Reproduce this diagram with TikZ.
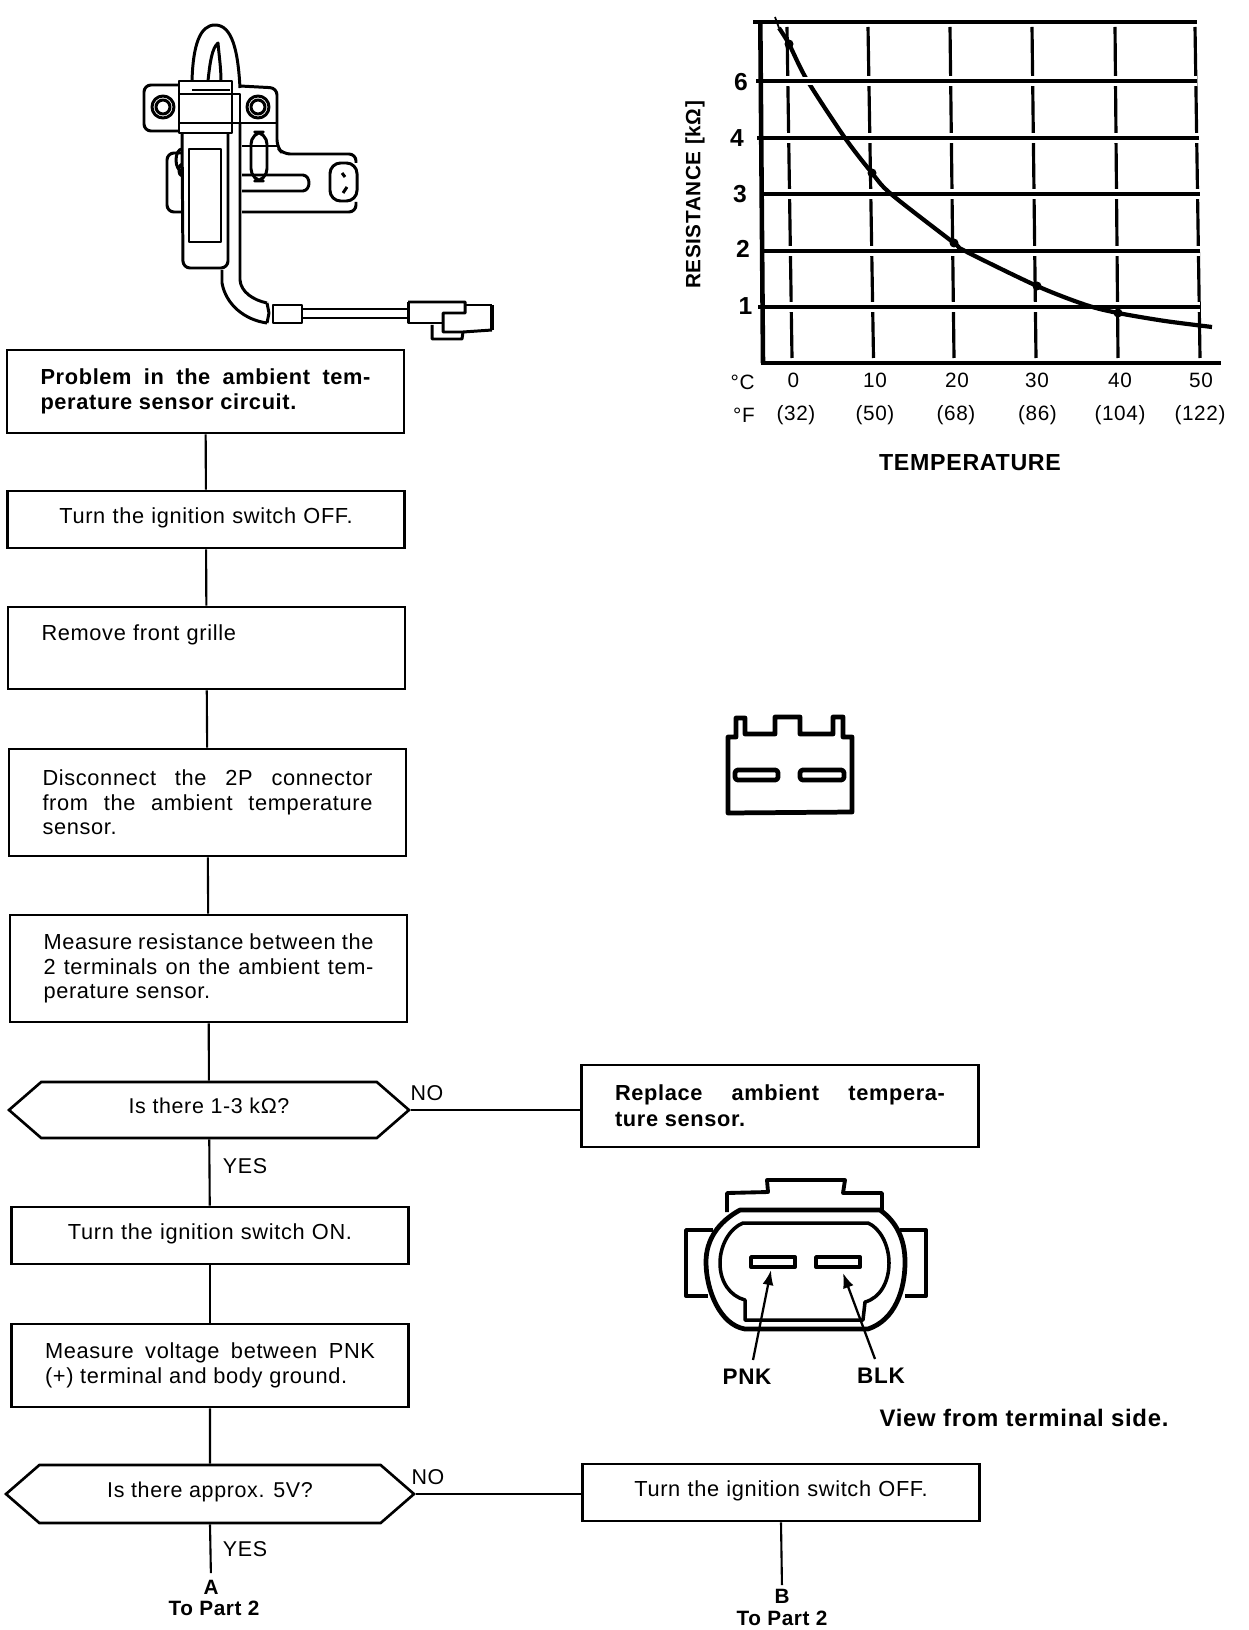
\documentclass[tikz,border=0pt]{standalone}
\usepackage{fontspec}
\setmainfont[LetterSpace=3]{Liberation Sans}
\usetikzlibrary{arrows.meta,shapes.symbols}
\tikzset{
  flowbox/.style={rectangle, draw=black, line width=0.75pt, align=justify, text width=33mm,
                  inner xsep=3.35mm, inner ysep=0pt, font=\fontsize{6.2}{7}\selectfont},
  flowmid/.style={flowbox, align=center, text depth=2.2pt},
  decision/.style={signal, signal to=west and east, signal pointer angle=82, draw=black,
                   line width=0.75pt, align=center, inner sep=0pt, text depth=2.6pt,
                   font=\fontsize{6.1}{7}\selectfont},
  link/.style={line width=0.6pt, draw=black},
  answer/.style={inner sep=0pt, font=\fontsize{6.1}{7}\selectfont},
  boldtag/.style={inner sep=0pt, font=\fontsize{5.9}{7}\selectfont\bfseries},
  numtag/.style={inner sep=0pt, font=\fontsize{7}{7}\selectfont\bfseries},
  axistag/.style={inner sep=0pt, font=\fontsize{5.9}{7}\selectfont},
  gridline/.style={line width=1.3pt, draw=black},
  halo/.style={line width=3pt, draw=white},
  tickline/.style={line width=0.9pt, draw=black},
  curveline/.style={line width=1.2pt, draw=black},
  outline/.style={line width=0.85pt, draw=black, line join=round},
  heavy/.style={line width=1.35pt, draw=black, line join=round},
  pointer/.style={-{Latex[length=1.5mm,width=1.1mm]}, line width=0.65pt, draw=black},
}
\begin{document}
\begin{tikzpicture}[x=0.1mm,y=-0.1mm]
  \useasboundingbox (0,0) rectangle (1248,1630);
  % sensor
  \draw[outline] (192,81) .. controls (193,45) and (200,25) .. (215,25) .. controls (232,25) and (238,50) .. (240,88);
  \draw[outline] (208,81) .. controls (210,62) and (212,48) .. (218,43) .. controls (219,55) and (221,68) .. (221,81);
  \draw[outline] (179,81) rectangle (232,133);
  \draw[outline] (192,90) -- (230,90);
  \draw[outline] (179,94) -- (240,94) -- (240,123) -- (179,123);
  \draw[outline, rounded corners=2pt] (179,85) -- (144,85) -- (144,131) -- (179,131);
  \draw[outline] (163,107) circle (11) circle (7);
  \draw[outline, rounded corners=2pt] (240,86) -- (277,88) -- (277,147) -- (283,154) -- (356,154) -- (356,163);
  \draw[outline, rounded corners=2pt] (356,202) -- (356,212) -- (242,212);
  \draw[outline] (240,123) -- (277,123);
  \draw[outline] (258,107) circle (11) circle (7);
  \draw[outline, rounded corners=3pt] (330,163) rectangle (357,201);
  \draw[outline] (342,173) -- (345,177) (347,187) -- (343,193);
  \draw[outline, rounded corners=3.5pt] (251,132) rectangle (267,181);
  \draw[outline] (242,146) -- (277,146);
  \draw[outline] (242,175) -- (303,175) .. controls (311,176) and (311,190) .. (303,191) -- (242,191);
  \draw[outline, rounded corners=2pt] (182,133) -- (183,268) -- (228,268) -- (228,133);
  \draw[outline] (189,149) rectangle (221,242);
  \draw[outline, rounded corners=2pt] (182,153) -- (167,153) -- (167,212) -- (182,212);
  \draw[outline] (182,171) arc (90:270:6 and 11);
  \draw[outline] (182,176) arc (90:270:3 and 6);
  \draw[outline] (240,123) -- (240,280) .. controls (241,292) and (253,300) .. (267,303);
  \draw[outline] (222,270) -- (222,283) .. controls (226,305) and (245,320) .. (267,323);
  \draw[outline] (267,303) -- (269,313) -- (267,323);
  \draw[outline] (273,305) rectangle (302,323);
  \draw[outline] (302,309) -- (408,309) (302,318) -- (408,318);
  \draw[outline] (408,302) -- (465,302) -- (465,313) -- (443,313) -- (443,332) -- (463,332) -- (492,330);
  \draw[outline] (408,302) -- (408,323) -- (443,323);
  \draw[outline] (465,305) -- (492,305);
  \draw[heavy] (492,305) -- (492,330);
  \draw[outline] (432,325) -- (432,339) -- (462,339) -- (463,332);
  % flow chart
  \node[flowbox, minimum height=8.3mm, font=\fontsize{6.2}{7.3}\selectfont\bfseries] (trouble) at (205.5,391.5)
    {Problem in the ambient tem-\linebreak perature sensor circuit.};
  \node[flowmid, minimum height=5.7mm] (ignoff) at (206,519.5) {Turn the ignition switch OFF.};
  \node[flowbox, minimum height=8.2mm, align=left] (grille) at (206.5,648) {Remove front grille\\[2pt]\mbox{}};
  \node[flowbox, minimum height=10.7mm] (unplug) at (207.5,802.5)
    {Disconnect the 2P connector\linebreak from the ambient temperature\linebreak sensor.};
  \node[flowbox, minimum height=10.7mm] (measres) at (208.5,968.5)
    {Measure resistance between the\linebreak 2 terminals on the ambient tem-\linebreak perature sensor.};
  \node[decision, minimum width=40mm, minimum height=5.6mm] (askres) at (209,1110) {Is there 1-3 k\symbol{"03A9}?};
  \node[flowbox, minimum height=8.2mm, font=\fontsize{6.2}{7.3}\selectfont\bfseries] (replace) at (780,1106)
    {Replace ambient tempera-\linebreak ture sensor.};
  \node[flowmid, minimum height=5.7mm] (ignon) at (210,1235.5) {Turn the ignition switch ON.};
  \node[flowbox, minimum height=8.3mm] (measvolt) at (210,1365.5)
    {Measure voltage between PNK\linebreak (+) terminal and body ground.};
  \node[decision, minimum width=40.8mm, minimum height=5.8mm] (askvolt) at (210,1494) {Is there approx. 5V?};
  \node[flowmid, minimum height=5.7mm] (ignoff2) at (781,1492.5) {Turn the ignition switch OFF.};
  \node[boldtag] (parta) at (211,1587) {A};
  \node[boldtag] (parta2) at (214,1608) {To Part 2};
  \node[boldtag] (partb) at (782,1596) {B};
  \node[boldtag] (partb2) at (782,1618) {To Part 2};
  \node[answer] (no1) at (427,1093) {NO};
  \node[answer] (yes1) at (245,1166) {YES};
  \node[answer] (no2) at (428,1477) {NO};
  \node[answer] (yes2) at (245,1549) {YES};
  \draw[link] (trouble) -- (ignoff);
  \draw[link] (ignoff) -- (grille);
  \draw[link] (grille) -- (unplug);
  \draw[link] (unplug) -- (measres);
  \draw[link] (measres) -- (askres);
  \draw[link] (askres.east) -- (askres.east -| replace.west);
  \draw[link] (askres) -- (ignon);
  \draw[link] (ignon) -- (measvolt);
  \draw[link] (measvolt) -- (askvolt);
  \draw[link] (askvolt.east) -- (askvolt.east -| ignoff2.west);
  \draw[link, shorten >=0.6mm] (askvolt.south) -- (parta.north);
  \draw[link, shorten >=0.3mm] (ignoff2.south) -- (partb.north);
  % graph
  \foreach \xa/\xb in {787/792,868/873.5,950/954,1032/1036,1115/1118,1195/1200}
    \draw[tickline] (\xa,27) -- (\xb,358);
  \foreach \yy/\xa/\xb in {81/756/1197,138/757/1199,194/760/1200,251/760/1200,307/758/1200}
    {\draw[halo] (\xa,\yy) -- (\xb,\yy);
     \draw[gridline] (\xa,\yy) -- (\xb,\yy);}
  \draw[gridline] (753,22) -- (1197,22);
  \draw[gridline] (761,363) -- (1221,363);
  \draw[line width=1.3pt] (760.3,22) -- (763,363);
  \draw[line width=0.5pt] (775,17) -- (779,28);
  \draw[curveline] plot[smooth] coordinates {(779,28) (789,44) (807,80) (845,138) (872,173) (891,194) (954,243) (965,251) (1037,286) (1086,305) (1118,313) (1165,321) (1212,327)};
  \draw[halo, line width=2.2pt] (798,81) -- (816,81);
  \draw[gridline] (798,81) -- (816,81);
  \foreach \cx/\cy in {789/44,872/173,954/243,1037/286,1118/313}
    \fill (\cx,\cy) circle (4.5);
  \node[numtag] (rsix) at (741,82) {6};
  \node[numtag] (rfour) at (737,138) {4};
  \node[numtag] (rthree) at (740,194) {3};
  \node[numtag] (rtwo) at (743,249) {2};
  \node[numtag] (rone) at (745.5,306) {1};
  \node[boldtag, rotate=90, font=\fontsize{5.9}{7}\selectfont\bfseries] (restitle) at (695,195) {RESISTANCE [k\symbol{"03A9}]};
  \node[axistag] (degc) at (742.6,382) {°C};
  \node[axistag] (degf) at (744,415) {°F};
  \foreach \xx/\val in {793.5/0,875/10,957/20,1037/30,1120/40,1201/50}
    \node[axistag] (c\val) at (\xx,380) {\val};
  \foreach \xx/\val in {796/32,875/50,956/68,1037.5/86,1120/104,1200/122}
    \node[axistag] (f\val) at (\xx,415) {(\val)};
  \node[boldtag, font=\fontsize{6.6}{7}\selectfont\bfseries] (temptitle) at (970,463) {TEMPERATURE};
  % 2P connector
  \draw[heavy] (728,813) -- (728,737) -- (736,737) -- (736,718) -- (745,718) -- (745,734) -- (775,734) -- (775,717) -- (800,717) -- (800,734) -- (833,734) -- (833,717) -- (843,717) -- (843,737) -- (852,737) -- (852,812) -- cycle;
  \draw[heavy, rounded corners=0.8pt] (735,770) rectangle (778,780);
  \draw[heavy, rounded corners=0.8pt] (800,770) rectangle (844,780);
  % harness connector
  \draw[heavy, line width=1.1pt] (727,1212) -- (727,1193) -- (768,1192) -- (767,1180) -- (845,1180) -- (843,1193) -- (882,1193) -- (882,1210);
  \draw[heavy, line width=1.1pt] (713,1230) -- (686,1230) -- (686,1296) -- (708,1296);
  \draw[heavy, line width=1.1pt] (900,1230) -- (926,1230) -- (926,1296) -- (905,1296);
  \draw[heavy] (740,1210) -- (880,1210) .. controls (897,1222) and (905,1240) .. (905,1262) .. controls (905,1290) and (895,1320) .. (868,1329) -- (745,1329) .. controls (720,1325) and (706,1290) .. (706,1262) .. controls (706,1240) and (718,1222) .. (740,1210) -- cycle;
  \draw[heavy, line width=1pt] (743,1223) -- (868,1223) .. controls (880,1228) and (889,1245) .. (889,1263) .. controls (889,1282) and (880,1298) .. (865,1302) -- (863,1320) -- (745,1320) -- (745,1300) .. controls (730,1296) and (720,1282) .. (720,1263) .. controls (720,1245) and (730,1228) .. (743,1223) -- cycle;
  \draw[heavy, line width=1.1pt] (751,1257) rectangle (795,1267);
  \draw[heavy, line width=1.1pt] (816,1257) rectangle (860,1267);
  \coordinate (pnkfoot) at (753,1360);
  \coordinate (pnktip) at (771,1270);
  \coordinate (blkfoot) at (875,1359);
  \coordinate (blktip) at (843,1273);
  \draw[pointer] (pnkfoot) -- (pnktip);
  \draw[pointer] (blkfoot) -- (blktip);
  \node[boldtag, font=\fontsize{6.4}{7}\selectfont\bfseries] (pnklabel) at (747,1377) {PNK};
  \node[boldtag, font=\fontsize{6.4}{7}\selectfont\bfseries] (blklabel) at (881,1376) {BLK};
  \node[boldtag, font=\fontsize{6.8}{7}\selectfont\bfseries] (viewnote) at (1024,1418) {View from terminal side.};
\end{tikzpicture}
\end{document}
